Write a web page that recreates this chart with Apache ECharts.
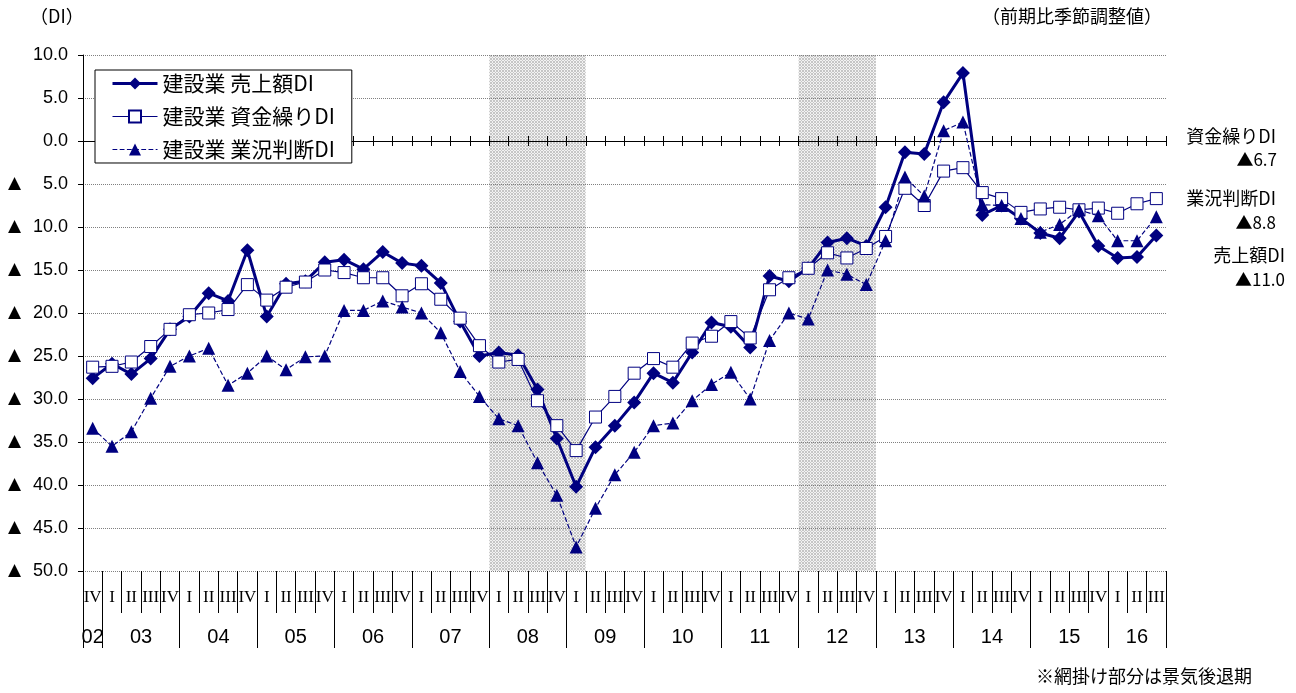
<!DOCTYPE html>
<html>
<head>
<meta charset="utf-8">
<script src="https://cdn.jsdelivr.net/npm/echarts@6/dist/echarts.min.js"></script>
<style>html,body{margin:0;padding:0;background:#fff;}#c{width:1296px;height:693px;}</style>
</head>
<body>
<div id="c"></div>
<script>
// ---- data ----
var years = ['02','03','04','05','06','07','08','09','10','11','12','13','14','15','16'];
var yearQuarters = [
  ['IV'],
  ['I','II','III','IV'],['I','II','III','IV'],['I','II','III','IV'],['I','II','III','IV'],
  ['I','II','III','IV'],['I','II','III','IV'],['I','II','III','IV'],['I','II','III','IV'],
  ['I','II','III','IV'],['I','II','III','IV'],['I','II','III','IV'],['I','II','III','IV'],
  ['I','II','III','IV'],
  ['I','II','III']
];
var salesName = '建設業 売上額DI';
var cashName = '建設業 資金繰りDI';
var bizName = '建設業 業況判断DI';
var sales = [-27.6,-25.9,-27.1,-25.3,-21.9,-20.4,-17.7,-18.6,-12.7,-20.4,-16.6,-16.3,-14.1,-13.8,-14.9,-12.9,-14.2,-14.5,-16.5,-21.0,
  -25.0,-24.6,-24.9,-28.9,-34.6,-40.2,-35.6,-33.1,-30.4,-27.0,-28.1,-24.6,-21.1,-21.6,-24.0,-15.7,-16.3,-14.8,-11.8,-11.3,
  -12.2,-7.7,-1.3,-1.5,4.5,7.9,-8.6,-7.5,-9.0,-10.7,-11.3,-8.2,-12.2,-13.6,-13.5,-11.0];
var cash = [-26.3,-26.2,-25.7,-23.9,-21.9,-20.2,-20.0,-19.6,-16.7,-18.5,-17.0,-16.4,-15.0,-15.3,-15.9,-15.9,-18.0,-16.6,-18.4,-20.6,
  -23.8,-25.7,-25.4,-30.2,-33.1,-36.0,-32.1,-29.7,-27.0,-25.3,-26.3,-23.5,-22.7,-21.0,-22.9,-17.3,-15.9,-14.8,-13.0,-13.6,
  -12.5,-11.1,-5.5,-7.5,-3.5,-3.1,-6.0,-6.7,-8.3,-7.9,-7.7,-8.0,-7.8,-8.4,-7.3,-6.7];
var biz = [-33.4,-35.5,-33.8,-29.9,-26.2,-25.0,-24.1,-28.4,-27.0,-25.0,-26.6,-25.1,-25.0,-19.7,-19.7,-18.6,-19.3,-20.0,-22.3,-26.8,
  -29.7,-32.3,-33.1,-37.4,-41.2,-47.2,-42.7,-38.8,-36.2,-33.1,-32.8,-30.2,-28.3,-26.9,-30.0,-23.2,-20.0,-20.7,-15.0,-15.5,
  -16.7,-11.6,-4.2,-6.4,1.2,2.2,-7.4,-7.5,-9.0,-10.6,-9.7,-8.0,-8.7,-11.6,-11.6,-8.8];
// recession periods: [startYear, startQuarter, endYear, endQuarter]
var recessions = [['08','I','09','I'], ['12','I','12','IV']];
var yMin = -50, yMax = 10, yStep = 5;

// ---- build categories ----
var categories = [], yearStart = [], yearCenter = [];
years.forEach(function (y, k) {
  yearStart.push(categories.length);
  yearQuarters[k].forEach(function (q) { categories.push(y + '-' + q); });
  yearCenter.push((yearStart[k] + categories.length) / 2);
});
var nCat = categories.length;
var yearBounds = yearStart.concat([nCat]);
function idxOf(y, q) { return categories.indexOf(y + '-' + q); }
var areaData = recessions.map(function (r) {
  return [{ xAxis: idxOf(r[0], r[1]) }, { xAxis: idxOf(r[2], r[3]) + 1 }];
});

// hatch pattern
var pc = document.createElement('canvas');
pc.width = 6; pc.height = 6;
var g = pc.getContext('2d');
g.fillStyle = '#f3f3f3'; g.fillRect(0, 0, 6, 6);
g.fillStyle = '#c6c6c6';
for (var px = 0; px < 6; px++) for (var py = 0; py < 6; py++) {
  if ((px + py) % 3 === 0 || (px - py + 6) % 3 === 0) g.fillRect(px, py, 1, 1);
}

var navy = '#000080';
var jp = '"Noto Sans CJK JP", sans-serif';
var last = function (a) { return a[a.length - 1]; };
var tri = function (v) { return (v < 0 ? '▲' : '') + Math.abs(v).toFixed(1); };

var chart = echarts.init(document.getElementById('c'));
var zeroAxis = function (inside) {
  return {
    type: 'category', data: categories, position: 'bottom', z: 3,
    axisLine: { show: true, onZero: true, onZeroAxisIndex: 0, lineStyle: { color: '#000', width: 1 } },
    axisTick: { show: true, interval: 0, inside: inside, length: 5, lineStyle: { color: '#000' } },
    axisLabel: { show: false }, splitLine: { show: false }
  };
};
chart.setOption({
  animation: false,
  backgroundColor: '#fff',
  grid: { left: 83, right: 130, top: 55, bottom: 122 },
  legend: {
    left: 95, top: 70, orient: 'vertical', z: 7,
    padding: [3, 17, 3, 16], itemGap: 12, itemWidth: 45, itemHeight: 15,
    backgroundColor: '#fff', borderColor: '#000', borderWidth: 1, borderRadius: 0,
    textStyle: { fontFamily: jp, fontSize: 21, color: '#000' },
    data: [
      { name: salesName, lineStyle: { width: 3 } },
      { name: cashName, lineStyle: { width: 1.2 } },
      { name: bizName, lineStyle: { width: 1.2, type: 'dashed' } }
    ]
  },
  xAxis: [
    {
      type: 'category', data: categories, position: 'bottom', z: 3,
      axisLine: { show: false, onZero: false },
      axisTick: { show: true, interval: 0, length: 42, lineStyle: { color: '#000' } },
      axisLabel: {
        interval: 0, margin: 18, fontSize: 17, color: '#000', fontFamily: '"Liberation Serif", serif',
        formatter: function (v) { return v.split('-')[1]; }
      },
      splitLine: { show: false }
    },
    {
      type: 'value', min: 0, max: nCat, position: 'bottom', z: 3,
      axisLine: { show: false, onZero: false },
      axisTick: { show: true, customValues: yearBounds, length: 77, lineStyle: { color: '#000' } },
      axisLabel: {
        customValues: yearCenter, margin: 56, fontSize: 20, color: '#000',
        fontFamily: '"Liberation Sans Narrow", "Liberation Sans", sans-serif',
        formatter: function (v) { var k = yearCenter.indexOf(v); return k >= 0 ? years[k] : ''; }
      },
      splitLine: { show: false }
    },
    zeroAxis(true),
    zeroAxis(false)
  ],
  yAxis: {
    type: 'value', min: yMin, max: yMax, interval: yStep, z: 3,
    axisLine: { show: true, onZero: false, lineStyle: { color: '#000' } },
    axisTick: { show: true, length: 5, lineStyle: { color: '#000' } },
    splitLine: { show: true, lineStyle: { color: '#808080', type: 'dotted', width: 1 } },
    axisLabel: {
      margin: 15, color: '#000',
      formatter: function (v) {
        return v < 0 ? '{t|▲}{n|' + (-v).toFixed(1) + '}' : '{n|' + v.toFixed(1) + '}';
      },
      rich: {
        t: { width: 18, align: 'left', fontSize: 17, fontFamily: '"DejaVu Sans", sans-serif', color: '#000' },
        n: { width: 42, align: 'right', fontSize: 18, fontFamily: '"Liberation Sans", Arial, sans-serif', color: '#000' }
      }
    }
  },
  series: [
    {
      name: 'recession', type: 'line', xAxisIndex: 1, data: [], silent: true, z: 1,
      markArea: { silent: true, itemStyle: { color: { image: pc, repeat: 'repeat' } }, data: areaData }
    },
    {
      name: salesName, type: 'line', data: sales, z: 6, showAllSymbol: true,
      symbol: 'diamond', symbolSize: 14,
      lineStyle: { color: navy, width: 3 }, itemStyle: { color: navy }
    },
    {
      name: cashName, type: 'line', data: cash, z: 6, showAllSymbol: true,
      symbol: 'rect', symbolSize: 12,
      lineStyle: { color: navy, width: 1.2 }, itemStyle: { color: '#fff', borderColor: navy, borderWidth: 1 }
    },
    {
      name: bizName, type: 'line', data: biz, z: 6, showAllSymbol: true,
      symbol: 'triangle', symbolSize: 13,
      lineStyle: { color: navy, width: 1.2, type: 'dashed' }, itemStyle: { color: navy }
    }
  ],
  graphic: [
    { type: 'text', left: 30, top: 7, style: { text: '（DI）', font: '18px ' + jp, fill: '#000' } },
    { type: 'text', right: 134, top: 7, style: { text: '（前期比季節調整値）', font: '18px ' + jp, fill: '#000' } },
    { type: 'text', right: 20, top: 127, style: { text: '資金繰りDI', font: '18px ' + jp, fill: '#000' } },
    { type: 'text', right: 19, top: 151, style: { text: tri(last(cash)), font: '17px ' + jp, fill: '#000' } },
    { type: 'text', right: 20, top: 189, style: { text: '業況判断DI', font: '18px ' + jp, fill: '#000' } },
    { type: 'text', right: 20, top: 214, style: { text: tri(last(biz)), font: '17px ' + jp, fill: '#000' } },
    { type: 'text', right: 11, top: 246, style: { text: '売上額DI', font: '18px ' + jp, fill: '#000' } },
    { type: 'text', right: 11, top: 271, style: { text: tri(last(sales)), font: '17px ' + jp, fill: '#000' } },
    { type: 'text', right: 44, top: 667, style: { text: '※網掛け部分は景気後退期', font: '18px ' + jp, fill: '#000' } }
  ]
});
</script>
</body>
</html>
